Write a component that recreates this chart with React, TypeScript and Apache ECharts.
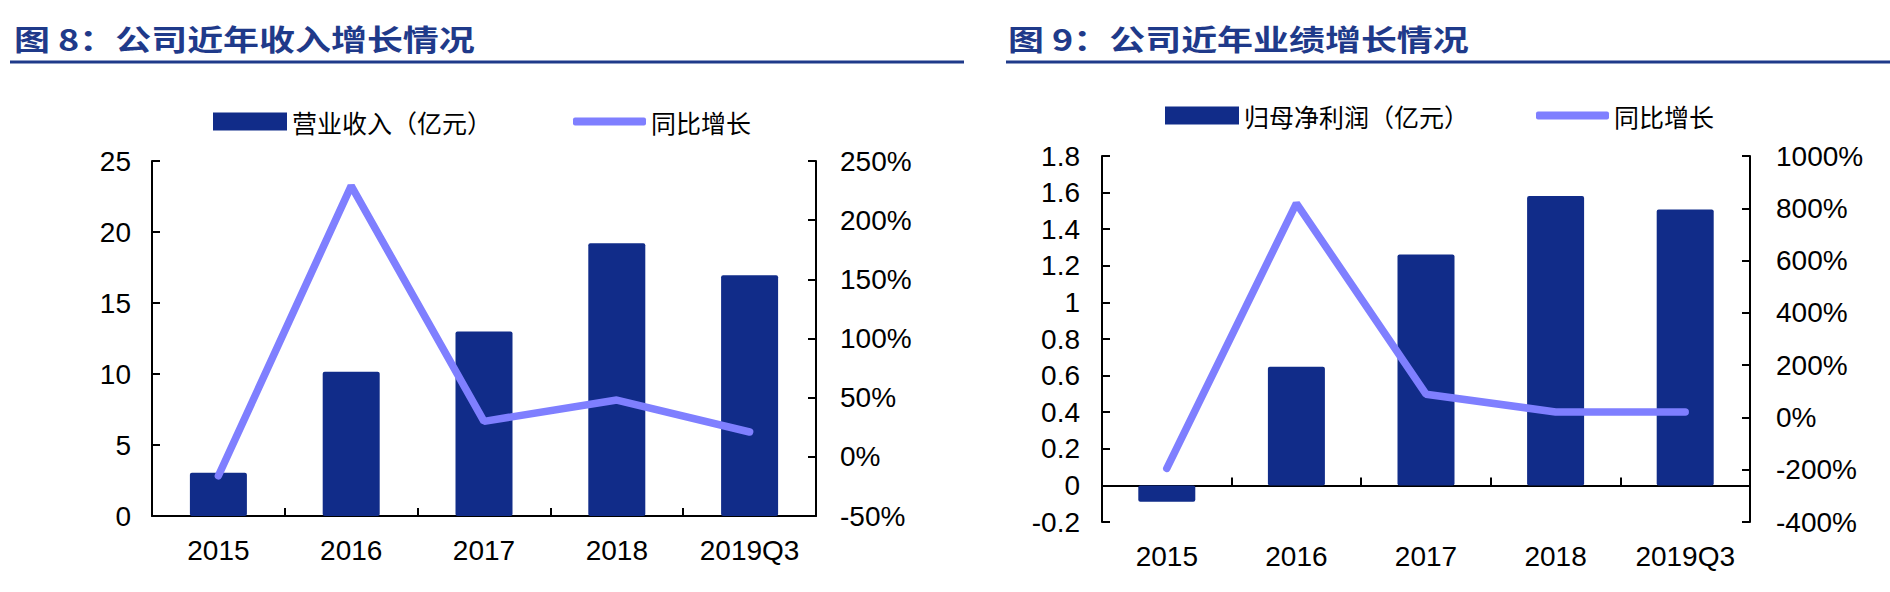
import React, { useEffect, useRef } from "react";
import * as echarts from "echarts";

const categories = ["2015", "2016", "2017", "2018", "2019Q3"];
const revenue = [3.05, 10.16, 13.0, 19.2, 16.95];
const revenueGrowth = [-16, 229, 30, 48, 21];
const netProfit = [-0.09, 0.648, 1.262, 1.581, 1.507];
const netProfitGrowth = [-195, 819, 89, 21, 21];

const leftTitle = "图 8：公司近年收入增长情况";
const rightTitle = "图 9：公司近年业绩增长情况";
const revenueName = "营业收入（亿元）";
const profitName = "归母净利润（亿元）";
const growthName = "同比增长";

const BAR = "#112c89";
const LINE = "#7f7fff";
const TITLE = "#1f3a8a";
const NUM_FONT = "'Liberation Sans', Arial, 'Noto Sans CJK SC', sans-serif";
const CJK_FONT = "'Noto Sans CJK SC', 'Liberation Sans', sans-serif";

const pct = (v: number) => `${v}%`;

function valueAxis(gridIndex: number, position: string, min: number, max: number, interval: number, margin: number, fmt?: any) {
  return {
    type: "value",
    gridIndex,
    position,
    min,
    max,
    interval,
    axisLine: { show: true, lineStyle: { color: "#000", width: 2 } },
    axisTick: { show: true, inside: true, length: 8, lineStyle: { color: "#000", width: 2 } },
    splitLine: { show: false },
    axisLabel: {
      fontSize: 28,
      color: "#000",
      fontFamily: NUM_FONT,
      margin,
      formatter: fmt,
    },
  };
}

function catAxis(gridIndex: number, onZeroAxisIndex: number) {
  return {
    type: "category",
    gridIndex,
    data: categories,
    axisLine: { show: true, onZero: true, onZeroAxisIndex, lineStyle: { color: "#000", width: 2 } },
    axisTick: { show: true, inside: true, length: 8, lineStyle: { color: "#000", width: 2 } },
    axisLabel: { fontSize: 28, color: "#000", fontFamily: NUM_FONT, margin: 20 },
  };
}

function legend(name: string, left: number, top: number, w: number, h: number, icon: string) {
  return {
    data: [{ name, icon }],
    left,
    top,
    padding: 0,
    itemWidth: w,
    itemHeight: h,
    selectedMode: false,
    textStyle: { fontSize: 25, color: "#000", fontFamily: CJK_FONT },
  };
}

export default function App() {
  const ref = useRef<HTMLDivElement>(null);
  useEffect(() => {
    if (!ref.current) return;
    const chart = echarts.init(ref.current, null, { renderer: "svg" });
    const option: any = {
      animation: false,
      backgroundColor: "#fff",
      grid: [
        { left: 152, right: 1074, top: 161, bottom: 76 },
        { left: 1102, right: 140, top: 156, bottom: 70 },
      ],
      legend: [
        legend(revenueName, 213, 109, 74, 18, "rect"),
        legend(growthName, 573, 109, 73, 8, "roundRect"),
        legend(profitName, 1165, 103, 74, 18, "rect"),
        legend(growthName, 1536, 103, 73, 8, "roundRect"),
      ],
      xAxis: [catAxis(0, 0), catAxis(1, 2)],
      yAxis: [
        valueAxis(0, "left", 0, 25, 5, 21),
        valueAxis(0, "right", -50, 250, 50, 24, pct),
        valueAxis(1, "left", -0.2, 1.8, 0.2, 22),
        valueAxis(1, "right", -400, 1000, 200, 26, pct),
      ],
      series: [
        {
          name: revenueName,
          type: "bar",
          xAxisIndex: 0,
          yAxisIndex: 0,
          data: revenue,
          barWidth: 57,
          itemStyle: { color: BAR, borderRadius: 2 },
        },
        {
          name: growthName,
          type: "line",
          xAxisIndex: 0,
          yAxisIndex: 1,
          data: revenueGrowth,
          symbol: "none",
          showSymbol: false,
          itemStyle: { color: LINE },
          lineStyle: { color: LINE, width: 7.5, cap: "round" },
          z: 3,
        },
        {
          name: profitName,
          type: "bar",
          xAxisIndex: 1,
          yAxisIndex: 2,
          data: netProfit,
          barWidth: 57,
          itemStyle: { color: BAR, borderRadius: 2 },
        },
        {
          name: growthName,
          type: "line",
          xAxisIndex: 1,
          yAxisIndex: 3,
          data: netProfitGrowth,
          symbol: "none",
          showSymbol: false,
          itemStyle: { color: LINE },
          lineStyle: { color: LINE, width: 7.5, cap: "round" },
          z: 3,
        },
      ],
      graphic: [
        {
          type: "text",
          x: 14,
          y: 38,
          scaleX: 1.24,
          style: {
            text: leftTitle,
            fontSize: 29,
            fontWeight: "bold",
            fontFamily: CJK_FONT,
            fill: TITLE,
            align: "left",
            verticalAlign: "middle",
          },
        },
        {
          type: "text",
          x: 1008,
          y: 38,
          scaleX: 1.24,
          style: {
            text: rightTitle,
            fontSize: 29,
            fontWeight: "bold",
            fontFamily: CJK_FONT,
            fill: TITLE,
            align: "left",
            verticalAlign: "middle",
          },
        },
        {
          type: "line",
          shape: { x1: 10, y1: 62, x2: 964, y2: 62 },
          style: { stroke: TITLE, lineWidth: 3 },
        },
        {
          type: "line",
          shape: { x1: 1006, y1: 62, x2: 1890, y2: 62 },
          style: { stroke: TITLE, lineWidth: 3 },
        },
      ],
    };
    chart.setOption(option);
    return () => chart.dispose();
  }, []);
  return (
    <div
      ref={ref}
      style={{ position: "absolute", left: 0, top: 0, width: 1890, height: 592, background: "#fff" }}
    />
  );
}
